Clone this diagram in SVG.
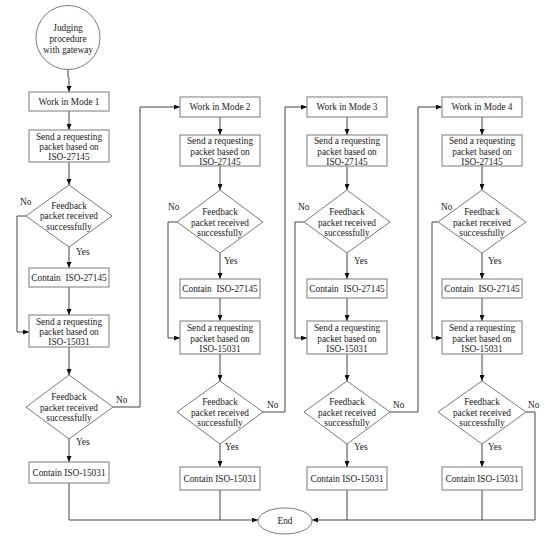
<svg xmlns="http://www.w3.org/2000/svg" width="550" height="538" viewBox="0 0 550 538">
<style>
.n{fill:#fff;stroke:#7a7a7a;stroke-width:1}
.t{font-family:"Liberation Serif","Times New Roman",serif;font-size:9.3px;fill:#1a1a1a;text-anchor:middle}
.l{font-family:"Liberation Serif","Times New Roman",serif;font-size:9.3px;fill:#1a1a1a}
.c{fill:none;stroke:#444;stroke-width:1}
</style>
<defs>
<marker id="ah" viewBox="0 0 6 5" refX="6" refY="2.5" markerWidth="6" markerHeight="5" orient="auto" markerUnits="userSpaceOnUse"><path d="M0,0 L6,2.5 L0,5 z" fill="#111"/></marker>
</defs>
<rect width="550" height="538" fill="#fff"/>

<g id="connectors">
<!-- column 1 -->
<path class="c" d="M68,69 V77 L69,79 V92" marker-end="url(#ah)"/>
<path class="c" d="M69,111 V130" marker-end="url(#ah)"/>
<path class="c" d="M69,162 V185" marker-end="url(#ah)"/>
<path class="c" d="M69,247 V268" marker-end="url(#ah)"/>
<path class="c" d="M69,287 V315" marker-end="url(#ah)"/>
<path class="c" d="M69,347 V375" marker-end="url(#ah)"/>
<path class="c" d="M69,439 V462" marker-end="url(#ah)"/>
<path class="c" d="M26,216 H17 V332 H29" marker-end="url(#ah)"/>
<path class="c" d="M113,407 H140 V107 H180" marker-end="url(#ah)"/>
<path class="c" d="M69,483 V520 H258" marker-end="url(#ah)"/>
<!-- column 2 -->
<path class="c" d="M220,117 V135" marker-end="url(#ah)"/>
<path class="c" d="M220,166 V190" marker-end="url(#ah)"/>
<path class="c" d="M220,253 V279" marker-end="url(#ah)"/>
<path class="c" d="M220,298 V321" marker-end="url(#ah)"/>
<path class="c" d="M220,354 V381" marker-end="url(#ah)"/>
<path class="c" d="M220,444 V467" marker-end="url(#ah)"/>
<path class="c" d="M177,222 H168 V338 H180" marker-end="url(#ah)"/>
<path class="c" d="M263,412 H285 V107 H307" marker-end="url(#ah)"/>
<path class="c" d="M220,490 V520"/>
<!-- column 3 -->
<path class="c" d="M347,117 V135" marker-end="url(#ah)"/>
<path class="c" d="M347,166 V190" marker-end="url(#ah)"/>
<path class="c" d="M347,253 V279" marker-end="url(#ah)"/>
<path class="c" d="M347,298 V321" marker-end="url(#ah)"/>
<path class="c" d="M347,354 V381" marker-end="url(#ah)"/>
<path class="c" d="M347,444 V467" marker-end="url(#ah)"/>
<path class="c" d="M304,222 H295 V338 H307" marker-end="url(#ah)"/>
<path class="c" d="M390,412 H418 V107 H442" marker-end="url(#ah)"/>
<path class="c" d="M347,490 V520"/>
<!-- column 4 -->
<path class="c" d="M482,117 V135" marker-end="url(#ah)"/>
<path class="c" d="M482,166 V190" marker-end="url(#ah)"/>
<path class="c" d="M482,253 V279" marker-end="url(#ah)"/>
<path class="c" d="M482,298 V321" marker-end="url(#ah)"/>
<path class="c" d="M482,354 V381" marker-end="url(#ah)"/>
<path class="c" d="M482,444 V467" marker-end="url(#ah)"/>
<path class="c" d="M438,222 H432 V338 H442" marker-end="url(#ah)"/>
<path class="c" d="M526,412 H535 V520 H312" marker-end="url(#ah)"/>
<path class="c" d="M482,490 V520"/>
<!-- labels -->
<text class="l" x="20" y="205">No</text>
<text class="l" x="76" y="255">Yes</text>
<text class="l" x="116" y="403">No</text>
<text class="l" x="76" y="445">Yes</text>
<text class="l" x="168" y="210">No</text>
<text class="l" x="224" y="264">Yes</text>
<text class="l" x="267" y="408">No</text>
<text class="l" x="225" y="450">Yes</text>
<text class="l" x="298" y="210">No</text>
<text class="l" x="354" y="264">Yes</text>
<text class="l" x="393" y="408">No</text>
<text class="l" x="354" y="450">Yes</text>
<text class="l" x="441" y="210">No</text>
<text class="l" x="488" y="264">Yes</text>
<text class="l" x="528" y="408">No</text>
<text class="l" x="488" y="450">Yes</text>
</g>

<g id="start">
<circle class="n" cx="68" cy="37.5" r="32"/>
<text class="t" x="68" y="31">Judging</text>
<text class="t" x="68" y="42">procedure</text>
<text class="t" x="68" y="53">with gateway</text>
</g>

<!-- Column 1 -->
<g id="mode1"><rect class="n" x="29" y="92" width="80" height="19"/><text class="t" x="69" y="104.8">Work in Mode 1</text></g>
<g id="send27145_1"><rect class="n" x="29" y="130" width="80" height="32"/><text class="t" x="69" y="139.6">Send a requesting</text><text class="t" x="69" y="150.2">packet based on</text><text class="t" x="69" y="160.4">ISO-27145</text></g>
<g id="check27145_1"><polygon class="n" points="69,185 112,216 69,247 26,216"/><text class="t" x="69" y="209">Feedback</text><text class="t" x="69" y="219.4">packet received</text><text class="t" x="69" y="230">successfully</text></g>
<g id="contain27145_1"><rect class="n" x="29" y="268" width="80" height="19"/><text class="t" x="69" y="280.8">Contain&#160; ISO-27145</text></g>
<g id="send15031_1"><rect class="n" x="29" y="315" width="80" height="32"/><text class="t" x="69" y="324.6">Send a requesting</text><text class="t" x="69" y="335.2">packet based on</text><text class="t" x="69" y="345.4">ISO-15031</text></g>
<g id="check15031_1"><polygon class="n" points="69,375 113,407 69,439 26,407"/><text class="t" x="69" y="400">Feedback</text><text class="t" x="69" y="410.6">packet received</text><text class="t" x="69" y="421.2">successfully</text></g>
<g id="contain15031_1"><rect class="n" x="29" y="462" width="80" height="21"/><text class="t" x="69" y="475.8">Contain ISO-15031</text></g>

<!-- Column 2 -->
<g id="mode2"><rect class="n" x="180" y="97" width="80" height="20"/><text class="t" x="220" y="110.3">Work in Mode 2</text></g>
<g id="send27145_2"><rect class="n" x="180" y="135" width="80" height="31"/><text class="t" x="220" y="144.4">Send a requesting</text><text class="t" x="220" y="154.8">packet based on</text><text class="t" x="220" y="165">ISO-27145</text></g>
<g id="check27145_2"><polygon class="n" points="220,190 263,222 220,253 177,222"/><text class="t" x="220" y="215">Feedback</text><text class="t" x="220" y="225.5">packet received</text><text class="t" x="220" y="236">successfully</text></g>
<g id="contain27145_2"><rect class="n" x="180" y="279" width="80" height="19"/><text class="t" x="220" y="291.8">Contain&#160; ISO-27145</text></g>
<g id="send15031_2"><rect class="n" x="180" y="321" width="80" height="33"/><text class="t" x="220" y="331.4">Send a requesting</text><text class="t" x="220" y="342">packet based on</text><text class="t" x="220" y="352.4">ISO-15031</text></g>
<g id="check15031_2"><polygon class="n" points="220,381 263,412 220,444 177,412"/><text class="t" x="220" y="405">Feedback</text><text class="t" x="220" y="415.6">packet received</text><text class="t" x="220" y="426.2">successfully</text></g>
<g id="contain15031_2"><rect class="n" x="180" y="467" width="80" height="23"/><text class="t" x="220" y="481.8">Contain ISO-15031</text></g>

<!-- Column 3 -->
<g id="mode3"><rect class="n" x="307" y="97" width="80" height="20"/><text class="t" x="347" y="110.3">Work in Mode 3</text></g>
<g id="send27145_3"><rect class="n" x="307" y="135" width="80" height="31"/><text class="t" x="347" y="144.4">Send a requesting</text><text class="t" x="347" y="154.8">packet based on</text><text class="t" x="347" y="165">ISO-27145</text></g>
<g id="check27145_3"><polygon class="n" points="347,190 390,222 347,253 304,222"/><text class="t" x="347" y="215">Feedback</text><text class="t" x="347" y="225.5">packet received</text><text class="t" x="347" y="236">successfully</text></g>
<g id="contain27145_3"><rect class="n" x="307" y="279" width="80" height="19"/><text class="t" x="347" y="291.8">Contain&#160; ISO-27145</text></g>
<g id="send15031_3"><rect class="n" x="307" y="321" width="80" height="33"/><text class="t" x="347" y="331.4">Send a requesting</text><text class="t" x="347" y="342">packet based on</text><text class="t" x="347" y="352.4">ISO-15031</text></g>
<g id="check15031_3"><polygon class="n" points="347,381 390,412 347,444 304,412"/><text class="t" x="347" y="405">Feedback</text><text class="t" x="347" y="415.6">packet received</text><text class="t" x="347" y="426.2">successfully</text></g>
<g id="contain15031_3"><rect class="n" x="307" y="467" width="80" height="23"/><text class="t" x="347" y="481.8">Contain ISO-15031</text></g>

<!-- Column 4 -->
<g id="mode4"><rect class="n" x="442" y="97" width="80" height="20"/><text class="t" x="482" y="110.3">Work in Mode 4</text></g>
<g id="send27145_4"><rect class="n" x="442" y="135" width="80" height="31"/><text class="t" x="482" y="144.4">Send a requesting</text><text class="t" x="482" y="154.8">packet based on</text><text class="t" x="482" y="165">ISO-27145</text></g>
<g id="check27145_4"><polygon class="n" points="482,190 526,222 482,253 438,222"/><text class="t" x="482" y="215">Feedback</text><text class="t" x="482" y="225.5">packet received</text><text class="t" x="482" y="236">successfully</text></g>
<g id="contain27145_4"><rect class="n" x="442" y="279" width="80" height="19"/><text class="t" x="482" y="291.8">Contain&#160; ISO-27145</text></g>
<g id="send15031_4"><rect class="n" x="442" y="321" width="80" height="33"/><text class="t" x="482" y="331.4">Send a requesting</text><text class="t" x="482" y="342">packet based on</text><text class="t" x="482" y="352.4">ISO-15031</text></g>
<g id="check15031_4"><polygon class="n" points="482,381 526,412 482,444 438,412"/><text class="t" x="482" y="405">Feedback</text><text class="t" x="482" y="415.6">packet received</text><text class="t" x="482" y="426.2">successfully</text></g>
<g id="contain15031_4"><rect class="n" x="442" y="467" width="80" height="23"/><text class="t" x="482" y="481.8">Contain ISO-15031</text></g>

<g id="end"><ellipse class="n" cx="285" cy="521" rx="27" ry="13"/><text class="t" x="285" y="524.3">End</text></g>
</svg>
